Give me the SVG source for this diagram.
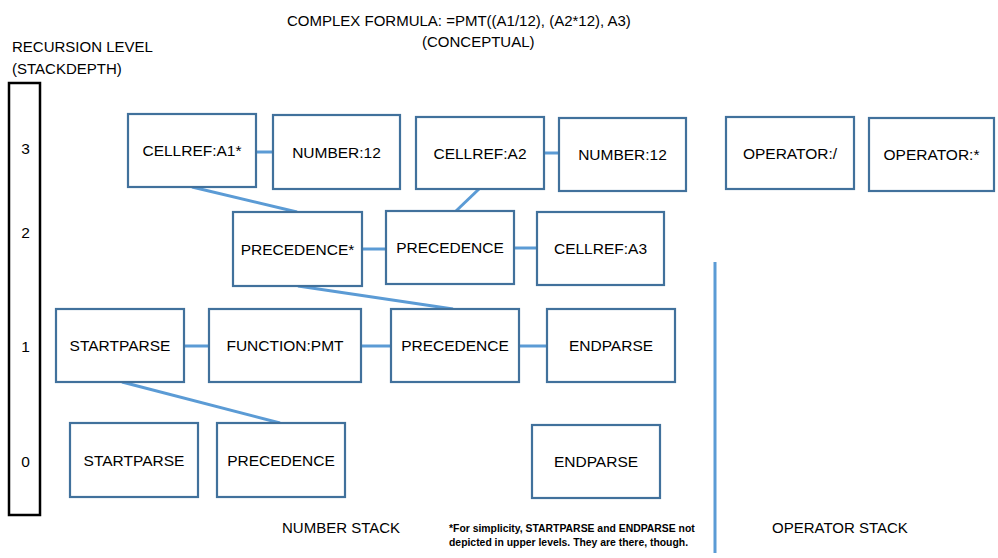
<svg xmlns="http://www.w3.org/2000/svg" width="998" height="558" viewBox="0 0 998 558">
<style>
.bx{fill:#fff;stroke:#41719C;stroke-width:2.2}
.t{font-family:"Liberation Sans",Arial,sans-serif;font-size:15.5px;fill:#000;text-anchor:middle}
.l{font-family:"Liberation Sans",Arial,sans-serif;font-size:15px;fill:#000}
.c{stroke:#5B9BD5;stroke-width:3;fill:none}
.fn{font-family:"Liberation Sans",Arial,sans-serif;font-size:10.4px;font-weight:bold;fill:#000}
</style>
<rect width="998" height="558" fill="#fff"/>
<g id="title">
<text class="l" x="287" y="26" font-size="15.5">COMPLEX FORMULA: =PMT((A1/12), (A2*12), A3)</text>
<text class="l" x="422" y="47" font-size="15.5">(CONCEPTUAL)</text>
</g>
<g id="level-bar">
<text class="l" x="12" y="52">RECURSION LEVEL</text>
<text class="l" x="12" y="74">(STACKDEPTH)</text>
<rect x="9" y="83" width="31" height="432" fill="none" stroke="#000" stroke-width="2.5"/>
<text class="t" x="25.5" y="154">3</text>
<text class="t" x="25.5" y="238">2</text>
<text class="t" x="25.5" y="352">1</text>
<text class="t" x="25.5" y="467">0</text>
</g>
<g id="connectors">
<line class="c" x1="256" y1="152" x2="273" y2="152"/>
<line class="c" x1="544" y1="153" x2="559" y2="153"/>
<line class="c" x1="362" y1="249" x2="386" y2="249"/>
<line class="c" x1="514" y1="248" x2="537" y2="248"/>
<line class="c" x1="184" y1="346" x2="209" y2="346"/>
<line class="c" x1="361" y1="346" x2="391" y2="346"/>
<line class="c" x1="519" y1="346" x2="547" y2="346"/>
<line class="c" x1="192" y1="187" x2="297" y2="212"/>
<line class="c" x1="479" y1="189" x2="456" y2="211"/>
<line class="c" x1="298" y1="286" x2="453" y2="309"/>
<line class="c" x1="122" y1="382" x2="280" y2="423"/>
<line class="c" x1="715" y1="262" x2="715" y2="553"/>
</g>
<g id="n_a1"><rect class="bx" x="128" y="114" width="128" height="73"/><text class="t" x="192" y="156">CELLREF:A1*</text></g>
<g id="n_num1"><rect class="bx" x="273" y="115" width="127" height="74"/><text class="t" x="336.5" y="157.5">NUMBER:12</text></g>
<g id="n_a2"><rect class="bx" x="416" y="117" width="128" height="72"/><text class="t" x="480" y="158.5">CELLREF:A2</text></g>
<g id="n_num2"><rect class="bx" x="559" y="118" width="127" height="73"/><text class="t" x="622.5" y="160">NUMBER:12</text></g>
<g id="n_opdiv"><rect class="bx" x="726" y="117" width="128" height="72"/><text class="t" x="790" y="158.5">OPERATOR:/</text></g>
<g id="n_opmul"><rect class="bx" x="869" y="118" width="125" height="73"/><text class="t" x="931.5" y="160">OPERATOR:*</text></g>
<g id="n_prec2a"><rect class="bx" x="233" y="212" width="129" height="74"/><text class="t" x="297.5" y="254.5">PRECEDENCE*</text></g>
<g id="n_prec2b"><rect class="bx" x="386" y="211" width="128" height="73"/><text class="t" x="450" y="252.5">PRECEDENCE</text></g>
<g id="n_a3"><rect class="bx" x="537" y="212" width="127" height="73"/><text class="t" x="600.5" y="254">CELLREF:A3</text></g>
<g id="n_start1"><rect class="bx" x="56" y="309" width="128" height="73"/><text class="t" x="120" y="351">STARTPARSE</text></g>
<g id="n_func"><rect class="bx" x="209" y="309" width="152" height="73"/><text class="t" x="285" y="351">FUNCTION:PMT</text></g>
<g id="n_prec1"><rect class="bx" x="391" y="309" width="128" height="73"/><text class="t" x="455" y="351">PRECEDENCE</text></g>
<g id="n_end1"><rect class="bx" x="547" y="309" width="128" height="73"/><text class="t" x="611" y="351">ENDPARSE</text></g>
<g id="n_start0"><rect class="bx" x="70" y="423" width="128" height="74"/><text class="t" x="134" y="465.5">STARTPARSE</text></g>
<g id="n_prec0"><rect class="bx" x="217" y="423" width="128" height="74"/><text class="t" x="281" y="465.5">PRECEDENCE</text></g>
<g id="n_end0"><rect class="bx" x="532" y="425" width="128" height="73"/><text class="t" x="596" y="467">ENDPARSE</text></g>
<g id="labels">
<text class="l" x="282" y="533">NUMBER STACK</text>
<text class="l" x="772" y="533">OPERATOR STACK</text>
<text class="fn" x="449" y="532">*For simplicity, STARTPARSE and ENDPARSE not</text>
<text class="fn" x="449" y="546">depicted in upper levels. They are there, though.</text>
</g>
</svg>
